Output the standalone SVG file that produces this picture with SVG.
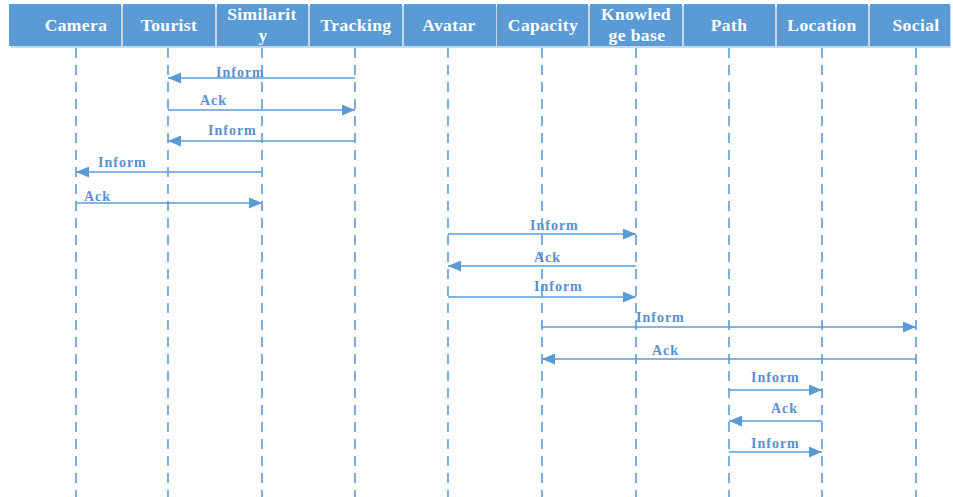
<svg xmlns="http://www.w3.org/2000/svg" width="953" height="497" viewBox="0 0 953 497">
<defs>
<style>
.hd{fill:#5b9bd5;}
.ht{fill:#ffffff;font-family:"Liberation Serif","Times New Roman",serif;font-weight:bold;font-size:17.5px;letter-spacing:0.4px;text-anchor:middle;}
.ll{stroke:#5b9bd5;stroke-width:1.6;stroke-dasharray:10 7;fill:none;}
.msg{stroke:#5b9bd5;stroke-width:1.6;fill:none;marker-end:url(#ah);}
.lb{fill:#5a8fd0;font-family:"Liberation Serif","Times New Roman",serif;font-weight:bold;font-size:14px;letter-spacing:1px;}
</style>
<marker id="ah" viewBox="0 0 13 11" refX="13" refY="5.5" markerWidth="13" markerHeight="11" markerUnits="userSpaceOnUse" orient="auto">
<path d="M0,0 L13,5.5 L0,11 Z" fill="#5b9bd5"/>
</marker>
</defs>
<rect x="0" y="0" width="953" height="497" fill="#ffffff"/>
<rect x="11" y="6" width="940" height="42" fill="#c9d6e3"/>
<g id="lifelines">
<line class="ll" x1="76" y1="48" x2="76" y2="497"/>
<line class="ll" x1="168" y1="48" x2="168" y2="497"/>
<line class="ll" x1="262" y1="48" x2="262" y2="497"/>
<line class="ll" x1="355" y1="48" x2="355" y2="497"/>
<line class="ll" x1="448" y1="48" x2="448" y2="497"/>
<line class="ll" x1="542" y1="48" x2="542" y2="497"/>
<line class="ll" x1="636" y1="48" x2="636" y2="497"/>
<line class="ll" x1="729" y1="48" x2="729" y2="497"/>
<line class="ll" x1="822" y1="48" x2="822" y2="497"/>
<line class="ll" x1="916" y1="48" x2="916" y2="497"/>
</g>
<g id="camera"><rect class="hd" x="9" y="4" width="112" height="42"/><text class="ht" x="76" y="31">Camera</text></g>
<g id="tourist"><rect class="hd" x="123" y="4" width="92" height="42"/><text class="ht" x="169" y="31">Tourist</text></g>
<g id="similarity"><rect class="hd" x="217" y="4" width="91" height="42"/><text class="ht" x="262" y="20">Similarit</text><text class="ht" x="263" y="41">y</text></g>
<g id="tracking"><rect class="hd" x="310" y="4" width="92" height="42"/><text class="ht" x="356" y="31">Tracking</text></g>
<g id="avatar"><rect class="hd" x="404" y="4" width="92" height="42"/><text class="ht" x="449" y="31">Avatar</text></g>
<g id="capacity"><rect class="hd" x="497" y="4" width="91" height="42"/><text class="ht" x="543" y="31">Capacity</text></g>
<g id="knowledgebase"><rect class="hd" x="590" y="4" width="92" height="42"/><text class="ht" x="636" y="20">Knowled</text><text class="ht" x="637" y="41">ge base</text></g>
<g id="path"><rect class="hd" x="684" y="4" width="91" height="42"/><text class="ht" x="729" y="31">Path</text></g>
<g id="location"><rect class="hd" x="777" y="4" width="91" height="42"/><text class="ht" x="822" y="31">Location</text></g>
<g id="social"><rect class="hd" x="870" y="4" width="80" height="42"/><text class="ht" x="916" y="31">Social</text></g>
<g id="connectors">
<line class="msg" x1="355" y1="78" x2="168" y2="78"/>
<line class="msg" x1="168" y1="110" x2="355" y2="110"/>
<line class="msg" x1="355" y1="141" x2="168" y2="141"/>
<line class="msg" x1="262" y1="172" x2="76" y2="172"/>
<line class="msg" x1="76" y1="203" x2="262" y2="203"/>
<line class="msg" x1="448" y1="234" x2="636" y2="234"/>
<line class="msg" x1="636" y1="266" x2="448" y2="266"/>
<line class="msg" x1="448" y1="297" x2="636" y2="297"/>
<line class="msg" x1="542" y1="327" x2="916" y2="327"/>
<line class="msg" x1="916" y1="359" x2="542" y2="359"/>
<line class="msg" x1="729" y1="390" x2="822" y2="390"/>
<line class="msg" x1="822" y1="421" x2="729" y2="421"/>
<line class="msg" x1="729" y1="452" x2="822" y2="452"/>
</g>
<g id="labels">
<text class="lb" x="216" y="77">Inform</text>
<text class="lb" x="200" y="105">Ack</text>
<text class="lb" x="208" y="135">Inform</text>
<text class="lb" x="98" y="167">Inform</text>
<text class="lb" x="84" y="201">Ack</text>
<text class="lb" x="530" y="230">Inform</text>
<text class="lb" x="534" y="262">Ack</text>
<text class="lb" x="534" y="291">Inform</text>
<text class="lb" x="636" y="322">Inform</text>
<text class="lb" x="652" y="355">Ack</text>
<text class="lb" x="751" y="382">Inform</text>
<text class="lb" x="771" y="413">Ack</text>
<text class="lb" x="751" y="448">Inform</text>
</g>
</svg>
